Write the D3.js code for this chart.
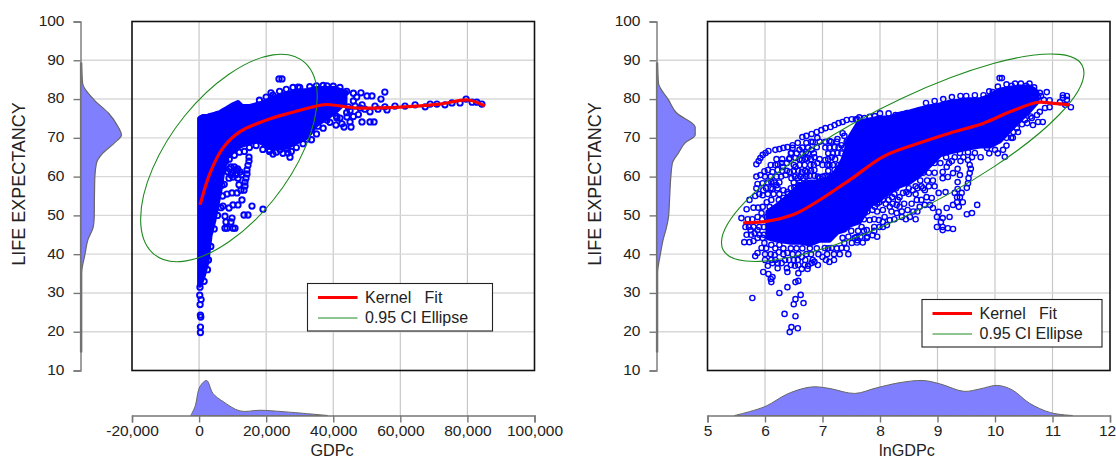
<!DOCTYPE html>
<html>
<head>
<meta charset="utf-8">
<script src="https://cdn.jsdelivr.net/npm/d3@7"></script>
<style>
body { margin: 0; background: #fff; }
text { font-family: "Liberation Sans", Arial, sans-serif; fill: #222; white-space: pre; }
.tick text { font-size: 15.5px; }
.axis path, .axis line { stroke: #777; stroke-width: 1.4; }
</style>
</head>
<body>
<div id="chart"></div>
<script>
const lifeTicks = [10, 20, 30, 40, 50, 60, 70, 80, 90, 100];
const gdpTicks = [-20000, 0, 20000, 40000, 60000, 80000, 100000];
const lnTicks = [5, 6, 7, 8, 9, 10, 11, 12];

// kernel fit lines
const gdpFitX = [300, 3250, 7130, 12200, 20150, 27100, 35060, 38050, 47000, 59900, 71830, 80200, 85200];
const gdpFitY = [52.7, 60.9, 67.4, 71.6, 74.6, 76.4, 78.2, 78.6, 77.7, 77.9, 78.7, 79.75, 78.2];
const lnFitX = [5.62, 5.99, 6.54, 7.47, 8.05, 8.63, 9.21, 9.79, 10.26, 10.72, 10.9, 11.3];
const lnFitY = [48.1, 48.4, 50.5, 59.1, 65.1, 68.4, 71.2, 73.7, 76.7, 79.1, 79.1, 78.5];

// 0.95 ellipses, read round the curve
const gdpEllX = [35230, 31700, 22065, 8900, -4265, -13900, -17430, -13900, -4265, 8900, 22065, 31700];
const gdpEllY = [80.5, 67.6, 53.9, 43.2, 38.2, 40.35, 49.1, 62.0, 75.7, 86.4, 91.4, 89.25];
const lnEllX = [11.547, 11.125, 9.971, 8.395, 6.819, 5.665, 5.243, 5.665, 6.819, 8.395, 9.971, 11.125];
const lnEllY = [86.72, 76.08, 62.44, 49.46, 40.58, 38.23, 43.02, 53.66, 67.3, 80.28, 89.16, 91.51];

// marginal densities (share of the tallest bump)
const gdpDensX = [-2500, -1200, 270, 2260, 4140, 7130, 12200, 18150, 25000, 38400];
const gdpDensV = [0, 0.26, 0.83, 1, 0.63, 0.4, 0.13, 0.15, 0.11, 0];
const lnDensX = [5.47, 5.73, 6.02, 6.37, 6.66, 6.87, 7.13, 7.56, 7.94, 8.35, 8.75, 9.05, 9.46, 9.74, 10.04, 10.3, 10.6, 10.97, 11.35];
const lnDensV = [0, 0.11, 0.27, 0.6, 0.77, 0.82, 0.77, 0.63, 0.79, 0.94, 1, 0.9, 0.69, 0.76, 0.86, 0.73, 0.35, 0.08, 0];
const lifeDensL = [89.3, 84.1, 79.8, 76.4, 72.8, 70.7, 68.7, 66.1, 63.5, 59.9, 54.7, 49.6, 47, 43.7, 40, 35.2, 14.8];
const lifeDensV = [0.03, 0.05, 0.33, 0.68, 0.92, 1, 0.83, 0.55, 0.39, 0.35, 0.34, 0.335, 0.31, 0.18, 0.11, 0.03, 0.03];
const lifeDensR = [0.03, 0.05, 0.31, 0.52, 1, 1, 0.74, 0.57, 0.41, 0.37, 0.34, 0.31, 0.26, 0.17, 0.1, 0.03, 0.03];

// overplotted solid part of each cloud: x, top and bottom of the mass
const gdpMassX = [150, 1160, 2350, 3250, 4440, 5340, 6230, 7130, 8320, 9810, 11600, 12790, 15180, 17260, 19350, 21140, 24120, 26200, 28600, 32170, 34850, 37540, 40520, 43500];
const gdpMassTop = [75.0, 75.5, 75.5, 75.8, 76.0, 76.3, 76.5, 77.0, 77.6, 78.4, 79.1, 78.1, 78.1, 78.6, 79.1, 79.9, 80.9, 81.4, 81.9, 82.2, 82.7, 82.7, 82.7, 81.8];
const gdpMassLow = [32.0, 34.1, 38.0, 44.7, 48.8, 52.7, 56.5, 61.7, 65.0, 66.3, 67.6, 68.1, 68.7, 69.4, 68.4, 67.6, 67.4, 67.6, 68.7, 70.2, 73.3, 74.9, 76.7, 79.2];
const lnMassX = [6.05, 6.22, 6.43, 6.60, 6.78, 6.95, 7.12, 7.26, 7.38, 7.47, 7.64, 7.82, 7.99, 8.17, 8.34, 8.52, 8.69, 8.87, 9.04, 9.21, 9.39, 9.56, 9.74, 9.91, 10.08, 10.26, 10.43, 10.61, 10.73];
const lnMassTop = [50.9, 52.7, 55.2, 57.8, 58.6, 58.6, 59.6, 61.7, 65.0, 70.0, 74.1, 74.6, 75.1, 75.1, 76.1, 76.7, 77.4, 78.0, 78.5, 79.2, 79.5, 79.8, 79.8, 80.8, 82.3, 82.8, 83.1, 83.1, 81.8];
const lnMassLow = [44.2, 43.6, 43.1, 43.1, 42.6, 43.6, 43.6, 45.7, 46.2, 47.5, 48.3, 52.7, 54.0, 56.5, 57.6, 58.6, 60.4, 63.0, 65.6, 66.3, 66.9, 67.4, 67.9, 67.9, 69.2, 72.0, 74.6, 77.2, 79.2];

// observations that stand clear of the mass
const gdpPoints = [
  [23830,85.2],[24720,85.2],[21440,81.6],[29490,83.1],[38130,83.4],[42900,81.8],[43500,81.6],[48270,81.6],[50060,80.8],[51550,80.8],
  [55380,81.8],[54230,80.0],[47980,77.7],[49450,77.4],[50960,76.7],[48570,74.1],[50960,74.1],[52150,74.1],[56030,77.2],[53350,77.4],
  [38130,74.6],[41110,75.1],[42000,75.1],[44090,75.4],[40810,73.3],[42600,73.6],[43210,72.8],[45300,72.8],[45000,74.1],[35450,73.0],
  [33660,74.3],[30090,69.7],[32170,69.7],[27100,65.0],[26200,67.1],[26500,66.1],[24120,66.9],[22030,65.8],[20840,66.9],
  [9510,62.5],[8620,61.2],[12200,61.2],[10110,59.9],[10990,61.7],[8920,59.6],[11600,59.6],
  [14880,65.0],[14880,64.0],[14580,62.9],[14280,61.7],[14280,60.7],[13980,59.6],[13690,58.6],[13690,57.6],[13390,56.5],
  [11900,57.9],[12490,56.5],[11300,55.8],[9810,55.8],[8320,55.5],[12790,54.0],[11600,52.7],[10110,52.7],[8920,51.9],[15770,52.4],
  [14580,50.1],[13390,50.1],[19050,51.6],[9810,49.3],[7720,49.8],[7130,52.4],[8020,48.3],[8320,46.7],[9510,48.3],[7720,46.7],
  [10110,46.7],[10700,46.7],[6820,57.8],
  [46500,78.2],[48600,78.5],[52450,78.2],[55400,78.0],[58400,78.2],[61400,78.2],[64400,78.5],[67400,78.0],[68900,78.7],[70900,78.7],
  [73300,78.5],[75400,79.0],[77800,79.0],[79600,80.0],[81400,79.2],[82800,79.2],[84300,78.7],
  [270,31.5],[200,29.4],[600,28.3],[300,27.0],[400,24.3],[500,23.8],[400,21.2],[400,19.8],
  [18000,79.7],[20000,80.5],[22000,81],[24000,82],[26000,82.5],[28000,83],[30000,83],[33000,83.2],
  [35000,83.4],[37000,83.5],[40000,83.3],[42000,83],[44000,82],[46000,81.5],
  [15000,67.5],[17000,68],[19000,67],[21000,66.5],[23000,66.3],[25000,66],[27500,66.5],[29000,67.5],[31000,68.5],[33500,69.5],
  [35000,71],[37000,72.5],[39000,74],[41000,75.5],[44500,78],
  [6000,60],[6800,62],[7400,63.5],[8000,64],[9000,64.5],[10500,65.5],[12000,66.3],[13500,66.5],
  [3500,42],[2800,38.5],[2500,36],[1500,33],[2800,44],[4500,46.5],[5500,50],[7000,55],[6500,52],[7500,58],
  [9000,62],[10000,61],[11000,60.5],[9500,60.5],[10500,62.5],[11500,62],[12700,60.5],
  [46000,79.5],[47000,80.5],[45000,77],[47500,76],[46000,75.5],[41000,78.5],[44000,76.5]
];
const lnPoints = [
  [5.85,63.2],[5.89,64.0],[5.92,64.8],[5.96,65.6],[6.01,66.1],[6.06,66.6],[6.18,66.9],[6.25,67.1],[6.32,67.4],[6.39,67.6],
  [6.48,68.1],[6.57,68.7],[6.65,70.2],[6.72,70.5],[6.81,71.0],[6.90,71.5],[6.98,72.0],[7.05,72.5],[7.14,72.8],[7.21,73.3],
  [7.28,73.8],[7.35,74.1],[7.42,74.6],[7.51,74.8],[7.58,74.8],
  [6.22,63.2],[6.29,63.5],[6.38,63.5],[6.43,64.8],[6.46,66.1],[6.48,67.4],[6.72,68.7],[6.83,68.9],[6.91,70.0],[7.35,71.2],
  [5.92,60.4],[5.99,61.4],[6.05,61.7],[6.13,61.2],[6.22,61.7],[6.31,62.5],[5.87,58.1],[5.96,58.3],[6.11,58.6],[6.20,57.8],
  [6.13,56.8],[5.97,56.5],[5.96,55.2],[5.83,55.0],[5.73,54.0],[5.68,51.6],[5.59,49.3],[6.03,53.4],[6.11,54.0],[6.24,54.0],
  [6.34,53.4],[5.96,52.2],[6.08,52.2],[6.13,50.6],[6.29,51.4],[5.94,50.6],[6.03,49.6],[5.87,49.6],
  [6.60,66.9],[6.71,66.3],[6.81,66.9],[6.90,67.6],[7.12,69.2],[7.26,69.7],[7.38,70.5],[7.44,68.7],[7.21,67.6],[7.33,68.1],[7.46,66.9],
  [6.53,64.8],[6.64,64.3],[6.74,64.8],[6.86,65.0],[6.69,63.0],[6.79,63.0],[6.91,63.5],[7.05,64.3],[7.16,65.0],[7.26,66.1],[7.40,65.6],
  [6.43,61.2],[6.53,62.5],[6.64,61.2],[6.74,61.2],[6.86,61.7],[7.12,63.0],[7.21,61.7],[7.32,61.7],
  [6.36,60.4],[6.46,59.6],[6.57,59.6],[6.67,59.6],[6.78,60.2],[6.86,60.2],[6.95,59.6],[7.05,60.2],[7.16,60.2],[6.32,56.5],
  [6.39,56.0],[6.51,57.1],[6.60,57.8],[6.71,57.6],[6.43,54.0],[6.53,55.0],[6.32,54.5],
  [5.66,47.0],[5.75,46.2],[5.82,45.4],[5.87,46.2],[5.64,43.1],[5.73,43.1],[5.80,43.4],[5.87,44.2],[5.96,44.2],[5.99,42.9],
  [5.94,41.6],[5.87,40.3],[5.83,39.5],[6.11,42.4],[6.25,42.4],[6.17,39.8],[6.24,40.5],[6.39,40.3],[6.22,37.7],[6.29,37.7],
  [6.11,38.5],[6.13,37.7],[6.22,36.4],[6.45,37.2],[6.38,36.4],[6.39,35.4],[6.58,37.2],[6.57,38.5],[6.64,39.3],[6.69,37.2],
  [6.64,36.2],[6.58,35.1],[6.74,36.2],[6.81,37.7],[6.83,38.5],[6.92,37.2],[6.86,38.0],[7.00,39.3],[7.12,38.0],[7.04,41.6],
  [7.16,41.6],[7.33,41.6],[7.38,42.9],[7.35,44.2],[7.56,44.2],[7.61,43.6],[7.51,42.9],
  [5.97,35.4],[6.06,34.9],[6.13,34.1],[6.10,33.6],[6.11,32.8],[6.53,32.8],[6.58,33.1],[6.39,31.5],[6.25,30.0],[6.62,29.5],
  [6.53,28.4],[6.67,27.4],[6.50,27.1],[5.78,28.7],[6.34,24.6],[6.53,24.0],[6.46,21.2],[6.57,20.9],[6.43,19.9],
  [9.53,64.3],[9.56,63.0],[9.58,62.0],[9.56,60.9],[9.54,59.6],[9.53,58.3],[9.51,57.1],[9.42,55.8],[9.39,54.7],[9.34,54.7],
  [9.30,55.8],[9.35,56.8],[9.16,62.5],[9.09,61.2],[9.09,59.6],[9.18,59.9],[9.27,60.9],[9.35,62.0],[9.39,60.4],[9.35,58.6],
  [9.02,55.8],[9.14,56.0],[8.81,54.7],[8.90,54.5],[8.78,56.5],[8.72,54.0],[8.69,52.2],[8.78,52.7],[8.87,52.7],[8.92,51.9],
  [8.99,49.6],[9.02,50.9],[9.09,49.3],[9.21,49.6],[9.16,51.9],[9.27,52.7],[9.37,52.2],[9.34,53.4],[9.44,53.4],[9.51,50.3],
  [9.60,50.6],[9.69,52.7],[9.06,48.3],[8.99,47.0],[9.09,47.0],[9.18,46.7],[9.27,46.5],[9.09,46.2],
  [8.15,56.0],[8.21,54.7],[8.15,54.0],[8.34,54.7],[8.40,55.8],[8.31,54.0],[8.29,52.7],[8.17,52.2],[8.05,54.0],[7.99,53.4],
  [7.91,52.2],[7.82,53.4],[8.05,51.4],[8.08,49.6],[8.17,48.8],[8.05,48.3],[7.98,48.8],[7.82,48.8],[7.73,50.6],[7.87,51.4],
  [7.68,47.0],[7.77,46.2],[7.87,44.9],[7.99,47.0],[8.12,47.5],[8.29,50.6],[8.38,49.6],[8.48,51.4],[8.52,49.6],[7.59,44.4],
  [7.77,44.2],[8.34,52.2],[8.64,54.0],[8.57,56.5],[8.46,56.0],
  [7.91,75.6],[7.82,75.4],[7.73,75.1],[7.61,74.8],[7.70,73.8],[8.27,75.9],[8.40,76.1],[8.47,76.4],[8.57,76.4],[8.66,76.9],
  [10.08,85.4],[10.12,85.4],[9.96,81.8],[10.90,81.8],[10.78,81.6],[11.18,81.0],[11.25,80.8],[11.18,80.3],[11.25,79.8],[11.13,79.2],
  [11.32,77.9],[11.22,78.5],[10.95,77.9],[10.87,77.7],[10.78,76.7],[10.73,75.9],[10.64,75.1],[10.52,74.6],[10.83,74.1],[10.75,74.1],
  [10.66,73.3],[10.56,73.8],[10.38,72.5],[10.31,70.0],[10.00,66.9],[10.14,66.9],[10.17,65.1],[9.86,67.4],[9.39,66.1],[9.53,66.3],
  [9.65,66.1],[9.77,68.7],[10.29,83.4],[10.54,83.4],[10.66,82.3],[10.75,80.5],[10.66,79.8],
  // inside the gappy upper left of the cloud
  [6.8,69],[6.95,69],[7.05,69],[7.15,69],[7.25,69],[7.42,69],[6.65,67.5],[6.75,67.5],[7.05,67.5],[7.12,67.5],[7.28,67.5],[7.38,67.5],
  [6.45,66],[6.55,66],[6.65,66],[6.75,66],[6.85,66],[7.1,66],[7.18,66],[7.33,66],[7.45,66],
  [6.2,64.5],[6.3,64.5],[6.42,64.5],[6.6,64.5],[6.7,64.5],[6.8,64.5],[6.95,64.5],[7.1,64.5],[7.22,64.5],[7.38,64.5],[7.45,64.5],
  [6.1,63],[6.18,63],[6.5,63],[6.6,63],[6.85,63],[7.0,63],[7.08,63],[7.18,63],[7.28,63],[7.38,63],[7.45,63],
  [6.3,61.5],[6.38,61.5],[6.5,61.5],[6.58,61.5],[6.7,61.5],[6.8,61.5],[7.1,61.5],[7.26,61.5],[7.38,61.5],[7.45,61.5],
  [5.85,60],[6.0,60],[6.1,60],[6.2,60],[6.28,60],[6.52,60],[6.62,60],[6.72,60],[6.92,60],[7.0,60],[7.1,60],[7.22,60],
  [6.05,58.5],[6.16,58.5],[6.25,58.5],[6.5,58.5],[6.6,58.5],[6.72,58.5],[6.95,58.5],[7.05,58.5],[7.15,58.5],
  [5.85,57],[6.02,57],[6.1,57],[6.22,57],[6.45,57],[5.9,55.5],[6.05,55.5],[6.15,55.5],[6.25,55.5],[6.4,55.5],
  [5.8,52],[5.88,52],[5.7,49],[5.78,49],[5.95,49],[5.72,47],[5.8,47],[5.9,47],[5.98,47],[5.68,45],[5.76,45],[5.9,45],[5.98,45],
  // under the mass
  [6.02,41.5],[6.18,41.5],[6.32,41.5],[6.45,41.5],[6.55,41.5],[6.65,41.5],[6.78,41.5],[6.9,41.5],[7.1,41.5],[7.25,41.5],[7.42,41.5],
  [6.0,40],[6.1,40],[6.32,40],[6.48,40],[6.58,40],[6.72,40],[6.8,40],[6.93,40],[7.08,40],[7.2,40],[7.3,40],[7.45,40],
  [6.0,38.5],[6.18,38.5],[6.35,38.5],[6.42,38.5],[6.5,38.5],[6.7,38.5],[7.06,38.5],[7.2,38.5],[6.05,37],[6.52,37],[6.75,37],
  [7.5,46],[7.62,46],[7.72,46],[7.9,46],[7.45,44.5],[7.66,44.5],[7.78,44.5],[7.95,44.5],[7.6,43],[7.7,43],
  [7.95,57],[8.05,57],[8.28,57],[8.5,57],[8.65,57],[8.75,57],[8.75,61],[8.85,61],[8.95,61],[8.7,59],[8.82,59],[8.92,59],
  [8.62,57.5],[8.72,57.5],[8.85,57.5],[8.95,57.5],[8.95,63.5],[9.05,63.5],[9.2,63.5],[9.15,65],[9.3,65],[9.45,65],[9.6,65],[9.75,65],
  [9.25,64],[9.4,64],[7.9,55.5],[8.0,55.5],[8.1,55.5],[8.25,55.5],[8.5,55.5],[8.62,55.5],
  [7.75,53],[7.95,53],[8.1,53],[8.22,53],[8.42,53],[8.55,53],[7.68,51],[7.78,51],[7.95,51],[8.2,51],[8.38,51],[8.58,51],[8.65,51],
  [7.72,49],[7.9,49],[8.25,49],[8.45,49],[8.62,49],[7.9,47],[8.05,47],
  [9.9,66],[10.05,66],[10.2,68],[10.28,70],[10.2,70],[10.4,71.5],[10.32,71.5],[10.47,73.5],[10.62,75.5],
  // ragged top edge
  [7.64,75.3],[8.0,76.3],[8.15,76.3],[8.8,79],[8.95,79.5],[9.1,80],[9.25,80.5],[9.4,80.8],[9.5,80.8],[9.65,81],[9.8,81],
  [9.9,82],[10.05,83.2],[10.2,83.8],[10.35,84],[10.45,84],[10.6,84],[10.68,83],[10.8,80.8],[10.85,79.8],[10.95,79.7]
];

const svg = d3.select("#chart").append("svg")
    .attr("width", 1116)
    .attr("height", 458);

function drawPanel(p) {
    const x = d3.scaleLinear().domain(p.xDomain).range([p.left, p.right]);
    const y = d3.scaleLinear().domain([10, 100]).range([370.5, 21.5]);
    const g = svg.append("g");

    // grid runs out through the marginal strips
    g.selectAll(".vgrid").data(p.xTicks.slice(1, -1)).enter().append("line")
        .attr("x1", d => x(d)).attr("x2", d => x(d))
        .attr("y1", 21.5).attr("y2", 415.5)
        .attr("stroke", "#c8c8c8").attr("stroke-width", 1.2);
    g.selectAll(".hgrid").data(lifeTicks.slice(1, -1)).enter().append("line")
        .attr("x1", p.axisX).attr("x2", p.right)
        .attr("y1", d => y(d)).attr("y2", d => y(d))
        .attr("stroke", "#d8d8d8").attr("stroke-width", 1.4);

    // marginal densities
    const topDens = d3.scaleLinear().domain([0, 1]).range([415.5, 415.5 - 35]);
    g.append("path")
        .datum(p.densX.map((d, i) => [d, p.densV[i]]))
        .attr("d", d3.area().x(d => x(d[0])).y0(topDens(0)).y1(d => topDens(d[1])).curve(d3.curveCatmullRom))
        .attr("fill", "#8080ff").attr("stroke", "#666").attr("stroke-width", 1);
    const sideDens = d3.scaleLinear().domain([0, 1]).range([p.axisX, p.axisX + p.sideWidth]);
    g.append("path")
        .datum(lifeDensL.map((d, i) => [d, p.lifeV[i]]))
        .attr("d", d3.area().y(d => y(d[0])).x0(sideDens(0)).x1(d => sideDens(d[1])).curve(d3.curveMonotoneY))
        .attr("fill", "#8080ff").attr("stroke", "#666").attr("stroke-width", 1.2);

    // axes
    const xAxis = g.append("g").attr("class", "axis")
        .attr("transform", "translate(0,415.5)")
        .call(d3.axisBottom(x).tickValues(p.xTicks).tickFormat(p.xFormat).tickSize(7).tickSizeOuter(7).tickPadding(2));
    const yAxis = g.append("g").attr("class", "axis")
        .attr("transform", `translate(${p.axisX},0)`)
        .call(d3.axisLeft(y).tickValues(lifeTicks).tickSize(7).tickSizeOuter(7).tickPadding(9));
    yAxis.selectAll("text").attr("dy", "0.25em");
    // last label sits on the page edge
    xAxis.selectAll(".tick:last-of-type text").attr("dx", p.lastTickShift);

    // cloud
    g.append("path")
        .datum(p.massX.map((d, i) => [d, p.massTop[i], p.massLow[i]]))
        .attr("d", d3.area().x(d => x(d[0])).y0(d => y(d[2])).y1(d => y(d[1])))
        .attr("fill", "#0000ff").attr("stroke", "#0000ff")
        .attr("stroke-width", 5).attr("stroke-linejoin", "round");
    g.selectAll(".pt").data(p.points).enter().append("circle")
        .attr("cx", d => x(d[0])).attr("cy", d => y(d[1]))
        .attr("r", p.ringR).attr("fill", "none")
        .attr("stroke", "#0000ff").attr("stroke-width", p.ringWidth);

    // ellipse and kernel fit
    g.append("path")
        .datum(p.ellX.map((d, i) => [d, p.ellY[i]]))
        .attr("d", d3.line().x(d => x(d[0])).y(d => y(d[1])).curve(d3.curveCardinalClosed.tension(-0.08)))
        .attr("fill", "none").attr("stroke", "#1e8a1e").attr("stroke-width", 1.1);
    g.append("path")
        .datum(p.fitX.map((d, i) => [d, p.fitY[i]]))
        .attr("d", d3.line().x(d => x(d[0])).y(d => y(d[1])).curve(d3.curveCatmullRom))
        .attr("fill", "none").attr("stroke", "#ff0000").attr("stroke-width", 3.2);

    // frame
    g.append("rect")
        .attr("x", p.left).attr("y", 21.5)
        .attr("width", p.right - p.left).attr("height", 349)
        .attr("fill", "none").attr("stroke", "#111").attr("stroke-width", 1.6);

    // legend
    const lg = g.append("g").attr("transform", `translate(${p.legend[0]},${p.legend[1]})`);
    lg.append("rect")
        .attr("width", p.legend[2]).attr("height", 47.5)
        .attr("fill", "#fff").attr("stroke", "#222").attr("stroke-width", 1.1);
    lg.append("line").attr("x1", 10.5).attr("x2", 50).attr("y1", 14).attr("y2", 14)
        .attr("stroke", "#ff0000").attr("stroke-width", 3);
    lg.append("line").attr("x1", 10.5).attr("x2", 50).attr("y1", 34.5).attr("y2", 34.5)
        .attr("stroke", "#1e8a1e").attr("stroke-width", 1.1);
    lg.append("text").attr("x", 57.5).attr("y", 19.5).attr("font-size", 16).text("Kernel   Fit");
    lg.append("text").attr("x", 57.5).attr("y", 39.5).attr("font-size", 16).text("0.95 CI Ellipse");

    // titles
    g.append("text")
        .attr("x", p.xTitleX).attr("y", 456)
        .attr("text-anchor", "middle").attr("font-size", 16.2)
        .text(p.xTitle);
    g.append("text")
        .attr("transform", `translate(${p.axisX - 56},184) rotate(-90)`)
        .attr("text-anchor", "middle").attr("font-size", 18)
        .text("LIFE EXPECTANCY");
}

drawPanel({
    left: 132, right: 534.5, axisX: 80.5, sideWidth: 41, ringWidth: 1.9, ringR: 2.7, lastTickShift: 0,
    xDomain: [-20000, 100000], xTicks: gdpTicks, xFormat: d => d3.format(",")(d).replace("\u2212", "-"),
    densX: gdpDensX, densV: gdpDensV, lifeV: lifeDensV,
    massX: gdpMassX, massTop: gdpMassTop, massLow: gdpMassLow, points: gdpPoints,
    ellX: gdpEllX, ellY: gdpEllY, fitX: gdpFitX, fitY: gdpFitY,
    legend: [307.5, 283.5, 185], xTitle: "GDPc", xTitleX: 332
});
drawPanel({
    left: 707.5, right: 1110, axisX: 656.5, sideWidth: 38.7, ringWidth: 1.4, ringR: 2.6, lastTickShift: -3,
    xDomain: [5, 12], xTicks: lnTicks, xFormat: d3.format("d"),
    densX: lnDensX, densV: lnDensV, lifeV: lifeDensR,
    massX: lnMassX, massTop: lnMassTop, massLow: lnMassLow, points: lnPoints,
    ellX: lnEllX, ellY: lnEllY, fitX: lnFitX, fitY: lnFitY,
    legend: [922, 299.5, 180], xTitle: "lnGDPc", xTitleX: 907
});
</script>
</body>
</html>
